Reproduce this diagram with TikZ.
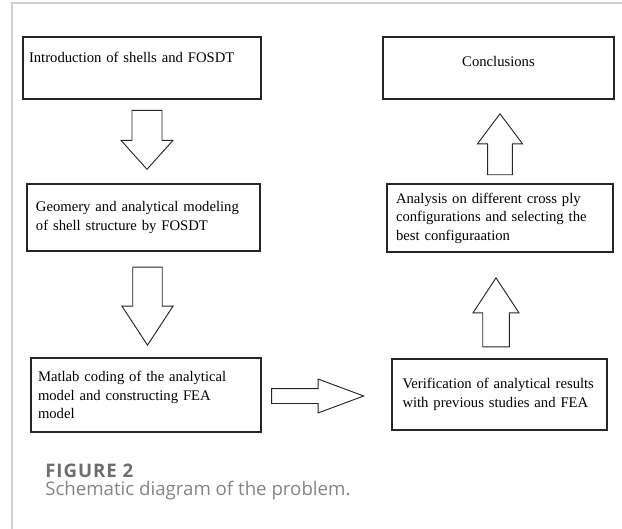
\documentclass[tikz,border=0pt]{standalone}
\usepackage{fontspec}
\setmainfont{Liberation Serif}
\newfontfamily\capfont{Open Sans}
\usetikzlibrary{shapes.arrows}
\definecolor{framecol}{HTML}{CFCFCF}
\definecolor{capcol}{HTML}{6E6E6E}
\tikzset{
  box/.style={draw=black!85, line width=0.9pt, align=left, inner sep=0pt,
    font=\fontsize{11}{13.9}\selectfont, text=black},
  blk/.style={single arrow, draw=black!85, line width=0.7pt, fill=white,
    inner xsep=0pt, anchor=tip},
  capline/.style={anchor=base west, inner sep=0pt, text=capcol,
    font=\capfont\fontsize{14}{16}\selectfont}}
\begin{document}
\begin{tikzpicture}[x=0.75pt, y=-0.75pt]
    \useasboundingbox (0,0) rectangle (622,529);
    \draw[framecol, line width=0.8pt] (12,529) -- (12,3) -- (622,3);
    % left column
    \node[box, minimum width=178.5pt, minimum height=46.5pt, text width=169.5pt,
      text depth=16pt] (intro) at (142,68) {Introduction of shells and FOSDT};
    \node[box, minimum width=174.75pt, minimum height=50.25pt, text width=161.25pt]
      (geom) at (143.5,217.5) {Geomery and analytical modeling\\of shell structure by FOSDT};
    \node[box, minimum width=172.5pt, minimum height=55.5pt, text width=162pt]
      (code) at (146,395) {Matlab coding of the analytical\\model and constructing FEA\\model};
    % right column
    \node[box, minimum width=161.25pt, minimum height=53.25pt, text width=145.5pt]
      (verif) at (499.5,394.5) {Verification of analytical results\\with previous studies and FEA};
    \node[box, minimum width=169.5pt, minimum height=51pt, text width=156pt]
      (anal) at (500,218) {Analysis on different cross ply\\configurations and selecting the\\best configuraation};
    \node[box, align=center, minimum width=173.25pt, minimum height=46.5pt,
      text depth=10pt] (concl) at (498.5,68) {Conclusions};
    % block arrows
    \node[blk, rotate=270, minimum height=44.25pt, minimum width=39pt, inner ysep=9.375pt,
      single arrow tip angle=83.8] (a1) at (147,170) {};
    \node[blk, rotate=270, minimum height=58.5pt, minimum width=38.25pt, inner ysep=9.375pt,
      single arrow tip angle=66.4] (a2) at (147.5,346) {};
    \node[blk, minimum height=69pt, minimum width=24pt, inner ysep=5.25pt,
      single arrow tip angle=40.8] (a3) at (365,396) {};
    \node[blk, rotate=90, minimum height=51.75pt, minimum width=34.5pt, inner ysep=9.375pt,
      single arrow tip angle=66.6] (a4) at (496,277) {};
    \node[blk, rotate=90, minimum height=45.75pt, minimum width=33.75pt, inner ysep=8.25pt,
      single arrow tip angle=73.7] (a5) at (500,113) {};
    % caption
    \node[capline, font=\capfont\bfseries\addfontfeatures{LetterSpace=5}\fontsize{14}{16}\selectfont]
      (fig) at (45,477) {FIGURE 2};
    \node[capline, text=capcol!85] (captxt) at (45,495) {Schematic diagram of the problem.};
\end{tikzpicture}
\end{document}
